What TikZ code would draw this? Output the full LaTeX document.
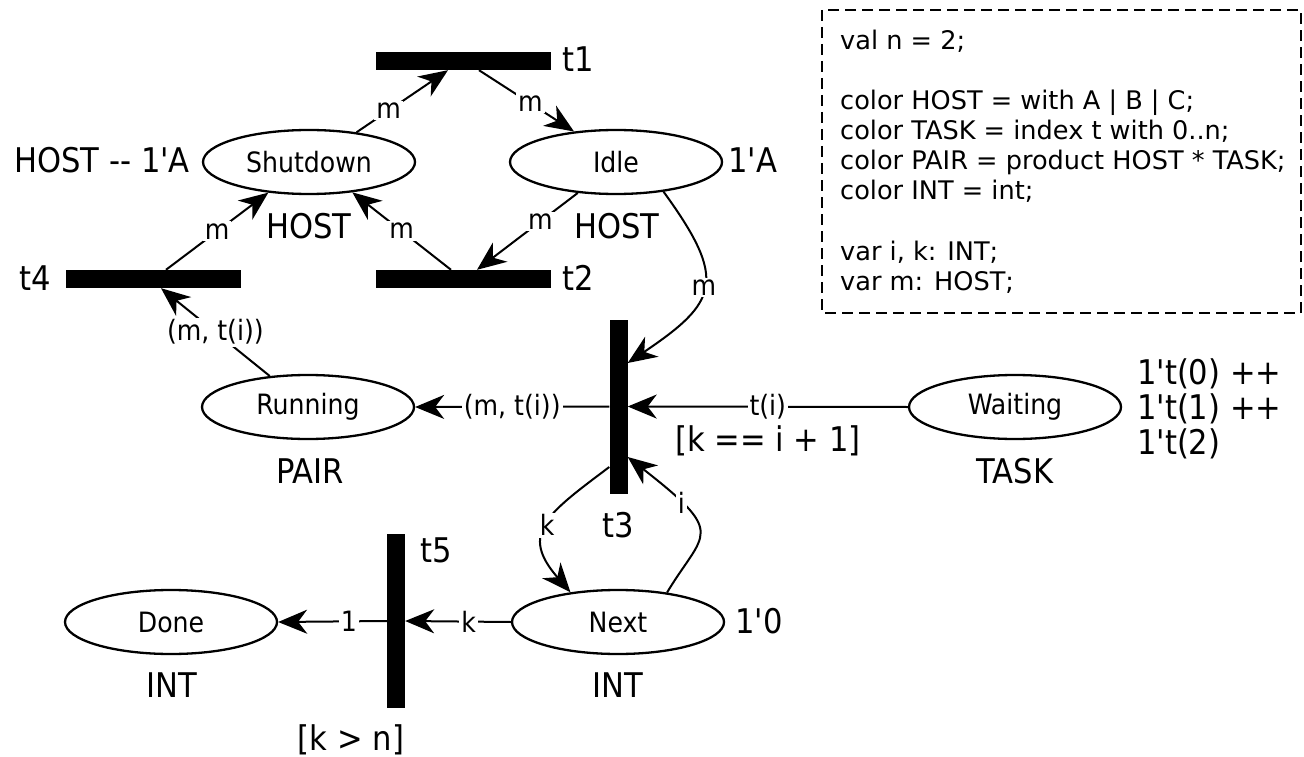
\documentclass[tikz,border=0pt]{standalone}
\usepackage{fontspec}
\newfontfamily\djfont{DejaVu Sans}
\newfontfamily\djcfont{DejaVu Sans Condensed}
\usetikzlibrary{arrows.meta,shapes.geometric}
\tikzset{
  place/.style={draw, ellipse, line width=2.3pt, minimum width=212pt, minimum height=64pt, inner sep=0pt, font=\djcfont\fontsize{28}{33}\selectfont},
  trans/.style={fill=black, draw=none, inner sep=0pt},
  htrans/.style={trans, minimum width=175pt, minimum height=18pt},
  vtrans/.style={trans, minimum width=18pt, minimum height=174pt},
  arc/.style={line width=2pt, -{Stealth[length=29pt,width=24pt,inset=9pt]}},
  lab/.style={fill=white, inner sep=2pt, font=\djcfont\fontsize{28}{33}\selectfont},
  big/.style={inner sep=0pt, font=\djcfont\fontsize{34}{39}\selectfont},
  decl/.style={inner sep=0pt, anchor=base west, font=\djfont\fontsize{25.6}{30}\selectfont},
}
\begin{document}
\begin{tikzpicture}[x=1pt,y=1pt]
\useasboundingbox (0,0) rectangle (1304,-757);
% places
\node[place] (shut) at (309,-162) {Shutdown};
\node[place] (idle) at (616,-162) {Idle};
\node[place] (run) at (308,-407) {Running};
\node[place] (wait) at (1015,-407) {Waiting};
\node[place] (done) at (171,-622) {Done};
\node[place] (next) at (618,-622) {Next};
% transitions
\node[htrans] (t1) at (463.5,-61) {};
\node[htrans] (t2) at (463.5,-279) {};
\node[htrans] (t4) at (153.5,-279) {};
\node[vtrans] (t3) at (618.5,-406.5) {};
\node[vtrans] (t5) at (396,-621) {};
% labels
\node[big, anchor=base west] (lt1) at (562,-72) {t1};
\node[big, anchor=base west] (lt2) at (562,-290) {t2};
\node[big, anchor=base east] (lt4) at (51,-290) {t4};
\node[big, anchor=base] (lt3) at (618,-537) {t3};
\node[big, anchor=base west] (lt5) at (420,-562) {t5};
\node[big, anchor=base east] (mshut) at (190,-172) {HOST -{}- 1'A};
\node[big, anchor=base west] (midle) at (728,-172) {1'A};
\node[big, anchor=base] (cshut) at (309,-238) {HOST};
\node[big, anchor=base] (cidle) at (617,-238) {HOST};
\node[big, anchor=base] (crun) at (310,-483) {PAIR};
\node[big, anchor=base] (cwait) at (1015,-483) {TASK};
\node[big, anchor=base] (cdone) at (172,-697) {INT};
\node[big, anchor=base] (cnext) at (618,-697) {INT};
\node[big, anchor=base west] (mnext) at (735,-633) {1'0};
\node[big, anchor=base west] (mw1) at (1137,-384) {1't(0) ++};
\node[big, anchor=base west] (mw2) at (1137,-419) {1't(1) ++};
\node[big, anchor=base west] (mw3) at (1137,-454) {1't(2)};
\node[big, anchor=base west] (g3) at (675,-451) {[k == i + 1]};
\node[big, anchor=base] (g5) at (351,-750) {[k > n]};
% declarations
\draw[line width=2pt, dash pattern=on 11pt off 6pt] (822,-10) rectangle (1301,-313);
\node[decl] (d1) at (840,-50) {val n = 2;};
\node[decl] (d2) at (840,-110) {color HOST = with A | B | C;};
\node[decl] (d3) at (840,-140) {color TASK = index t with 0..n;};
\node[decl] (d4) at (840,-170) {color PAIR = product HOST * TASK;};
\node[decl] (d5) at (840,-200) {color INT = int;};
\node[decl] (d6) at (840,-260) {var i, k: INT;};
\node[decl] (d7) at (840,-290) {var m: HOST;};
% arcs
\draw[arc] (shut.32) -- node[lab,pos=0.35]{m} ([xshift=-15.5pt]t1.south);
\draw[arc] ([xshift=15.5pt]t1.south) -- node[lab,pos=0.54]{m} (idle.144);
\draw[arc] (idle.-141) -- node[lab,pos=0.37]{m} ([xshift=13.5pt]t2.north);
\draw[arc] ([xshift=-12.5pt]t2.north) -- node[lab,pos=0.5]{m} (shut.-35);
\draw[arc] ([xshift=12.5pt]t4.north) -- node[lab,pos=0.5]{m} (shut.-143);
\draw[arc] (run.141) -- node[lab,pos=0.5]{(m, t(i))} ([xshift=7.5pt]t4.south);
\draw[arc] (idle.-32) to[out=-54,in=34,looseness=1.6] node[lab,pos=0.5]{m} ([yshift=43.5pt]t3.east);
\draw[arc] (t3.west) -- node[lab,pos=0.5]{(m, t(i))} (run.east);
\draw[arc] (wait.west) -- node[lab,pos=0.5]{t(i)} (t3.east);
\draw[arc] ([yshift=-60.5pt]t3.west) to[out=217,in=131,looseness=1.53] node[lab,pos=0.5]{k} (next.148);
\draw[arc] (next.31) to[out=59,in=-38,out looseness=1.3,in looseness=2.3] node[lab,pos=0.75]{i} ([yshift=-50.5pt]t3.east);
\draw[arc] (next.west) -- node[lab,pos=0.4]{k} (t5.east);
\draw[arc] (t5.west) -- node[lab,pos=0.35]{1} (done.east);
\end{tikzpicture}
\end{document}
